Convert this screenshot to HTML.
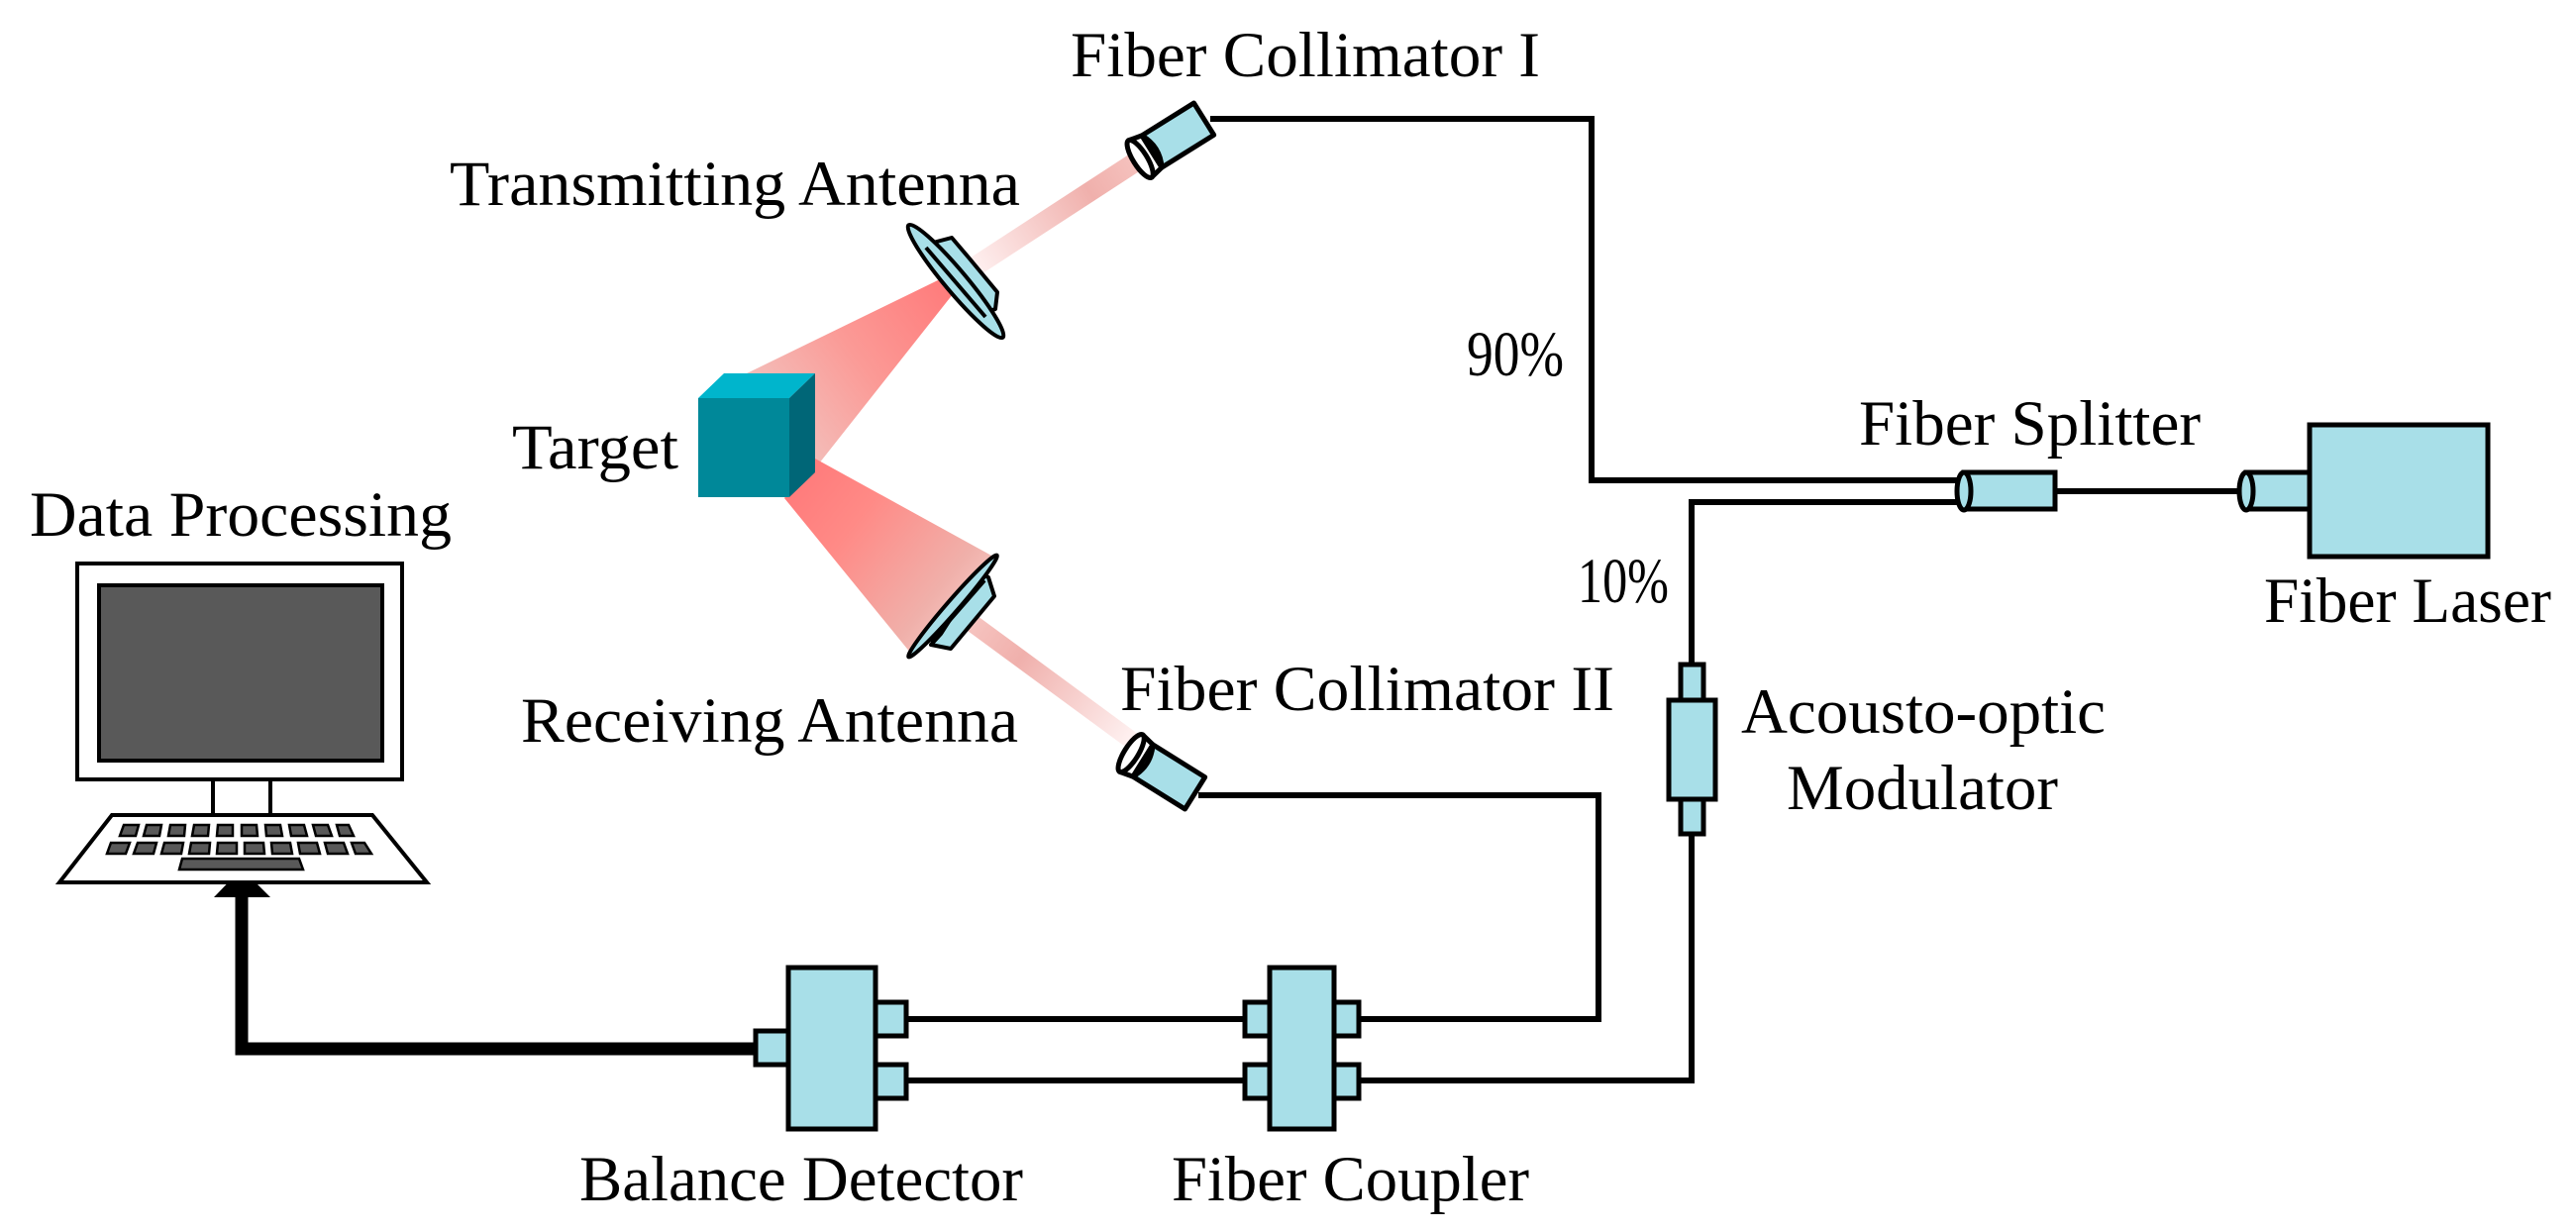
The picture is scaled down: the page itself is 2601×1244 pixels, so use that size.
<!DOCTYPE html>
<html><head><meta charset="utf-8"><style>
html,body{margin:0;padding:0;background:#fff;}
svg{display:block;}
text{font-family:"Liberation Serif",serif;font-size:65px;fill:#000;}
</style></head><body>
<svg width="2601" height="1244" viewBox="0 0 2601 1244" xmlns="http://www.w3.org/2000/svg">
<defs>
<linearGradient id="cone1" gradientUnits="userSpaceOnUse" x1="960" y1="290" x2="770" y2="430">
<stop offset="0" stop-color="#ff7b7b"/><stop offset="0.5" stop-color="#fb9a96"/><stop offset="1" stop-color="#f2c4c0"/></linearGradient>
<linearGradient id="cone2" gradientUnits="userSpaceOnUse" x1="800" y1="490" x2="990" y2="640">
<stop offset="0" stop-color="#ff7b7b"/><stop offset="0.3" stop-color="#ff8a86"/><stop offset="0.75" stop-color="#f0b0aa"/><stop offset="1" stop-color="#f8d0cc"/></linearGradient>
<linearGradient id="beam1" gradientUnits="userSpaceOnUse" x1="1152" y1="160" x2="980" y2="272">
<stop offset="0" stop-color="#f6c4c0"/><stop offset="0.3" stop-color="#f0b0ac"/><stop offset="1" stop-color="#fff2f2"/></linearGradient>
<linearGradient id="beam2" gradientUnits="userSpaceOnUse" x1="980" y1="628" x2="1148" y2="750">
<stop offset="0" stop-color="#f6c4c0"/><stop offset="0.3" stop-color="#f0b0ac"/><stop offset="1" stop-color="#fff4f4"/></linearGradient>
</defs>

<g fill="none" stroke="#000" stroke-width="6">
<polyline points="1222,120 1607,120 1607,485 1983,485"/>
<polyline points="1983,507 1708,507 1708,671"/>
<polyline points="1708,842 1708,1091 1372,1091"/>
<polyline points="1210,803 1614,803 1614,1029 1372,1029"/>
<line x1="915" y1="1029" x2="1257" y2="1029"/>
<line x1="915" y1="1091" x2="1257" y2="1091"/>
<line x1="2075" y1="496" x2="2262" y2="496"/>
</g>
<polyline points="763,1059 244,1059 244,900" fill="none" stroke="#000" stroke-width="13"/>
<polygon points="244,877 216,906 273,906" fill="#000"/>

<polygon points="947,283 966,292 827,468 754,377" fill="url(#cone1)"/>
<polygon points="792,503 823,463 1003,562 920,660" fill="url(#cone2)"/>

<line x1="1152" y1="160" x2="980" y2="272" stroke="url(#beam1)" stroke-width="20" stroke-linecap="round"/>
<line x1="980" y1="628" x2="1146" y2="750" stroke="url(#beam2)" stroke-width="18" stroke-linecap="round"/>

<!-- transmitting antenna -->
<g stroke="#000" stroke-width="4" fill="#a8dfe8" stroke-linejoin="round">
<polygon points="942,245 961,240 978,260 1007,295 1005,312 990,318 950,262"/>
<ellipse cx="965" cy="284" rx="74" ry="11" transform="rotate(50 965 284)"/>
<line x1="935" y1="250" x2="995" y2="320"/>
</g>
<!-- receiving antenna -->
<g stroke="#000" stroke-width="4" fill="#a8dfe8" stroke-linejoin="round">
<polygon points="990,578 998,583 1004,602 960,655 940,651 950,640"/>
<ellipse cx="962" cy="612" rx="68" ry="6" transform="rotate(-49 962 612)"/>
<line x1="994" y1="586" x2="940" y2="648"/>
</g>

<polygon points="705,402 731,377 823,377 797,402" fill="#00b5cc"/>
<polygon points="797,402 823,377 823,477 797,502" fill="#006677"/>
<rect x="705" y="402" width="92" height="100" fill="#008899"/>

<g transform="translate(1163,153) rotate(-32)" stroke="#000" stroke-width="5" stroke-linejoin="round">
<rect x="0" y="-19" width="62" height="38" fill="#a8dfe8"/>
<path d="M0,-19 L-14,-22 L-14,22 L0,19 Z" fill="#fff"/>
<ellipse cx="-14" cy="0" rx="7" ry="22" fill="#fff"/>
<path d="M0,-19 Q10,0 0,19" fill="none"/>
</g>
<g transform="translate(1154,768) rotate(32)" stroke="#000" stroke-width="5" stroke-linejoin="round">
<rect x="0" y="-19" width="62" height="38" fill="#a8dfe8"/>
<path d="M0,-19 L-14,-22 L-14,22 L0,19 Z" fill="#fff"/>
<ellipse cx="-14" cy="0" rx="7" ry="22" fill="#fff"/>
<path d="M0,-19 Q10,0 0,19" fill="none"/>
</g>

<g stroke="#000" stroke-width="5" fill="#a8dfe8">
<rect x="1983" y="477" width="92" height="37"/>
<ellipse cx="1983" cy="496" rx="7" ry="19"/>
<rect x="2268" y="477" width="64" height="37"/>
<ellipse cx="2268" cy="496" rx="7" ry="19"/>
<rect x="2332" y="429" width="180" height="133"/>
<rect x="1697" y="671" width="23" height="36"/>
<rect x="1685" y="707" width="47" height="100"/>
<rect x="1697" y="807" width="23" height="35"/>
<rect x="1257" y="1012" width="25" height="34"/>
<rect x="1257" y="1075" width="25" height="34"/>
<rect x="1347" y="1012" width="25" height="34"/>
<rect x="1347" y="1075" width="25" height="34"/>
<rect x="1282" y="977" width="65" height="163"/>
<rect x="884" y="1012" width="31" height="34"/>
<rect x="884" y="1075" width="31" height="34"/>
<rect x="763" y="1041" width="33" height="34"/>
<rect x="796" y="977" width="88" height="163"/>
</g>

<g stroke="#000" stroke-width="4">
<rect x="78" y="569" width="328" height="218" fill="#fff"/>
<rect x="100" y="591" width="286" height="177" fill="#595959"/>
<rect x="215" y="787" width="58" height="36" fill="#fff"/>
<polygon points="113,823 376,823 431,891 60,891" fill="#fff"/>
</g>
<g fill="#595959" stroke="#000" stroke-width="2.5">
<polygon points="125,833 140,833 137,844 121,844"/>
<polygon points="148,833 163,833 161,844 145,844"/>
<polygon points="172,833 187,833 186,844 170,844"/>
<polygon points="196,833 211,833 210,844 194,844"/>
<polygon points="220,833 235,833 235,844 219,844"/>
<polygon points="244,833 259,833 260,844 244,844"/>
<polygon points="268,833 283,833 285,844 269,844"/>
<polygon points="292,833 307,833 310,844 294,844"/>
<polygon points="316,833 331,833 335,844 319,844"/>
<polygon points="340,833 352,833 357,844 343,844"/>
<polygon points="112,851 131,851 127,862 108,862"/>
<polygon points="139,851 158,851 155,862 135,862"/>
<polygon points="166,851 185,851 183,862 163,862"/>
<polygon points="193,851 212,851 211,862 191,862"/>
<polygon points="220,851 239,851 239,862 219,862"/>
<polygon points="247,851 266,851 267,862 247,862"/>
<polygon points="274,851 293,851 295,862 275,862"/>
<polygon points="301,851 320,851 323,862 303,862"/>
<polygon points="328,851 347,851 351,862 331,862"/>
<polygon points="355,851 368,851 375,862 359,862"/>
<polygon points="184,867 302,867 306,878 181,878"/>
</g>

<text x="1081" y="77" textLength="474" lengthAdjust="spacingAndGlyphs">Fiber Collimator I</text>
<text x="454" y="207" textLength="576" lengthAdjust="spacingAndGlyphs">Transmitting Antenna</text>
<text x="1481" y="379" textLength="98" lengthAdjust="spacingAndGlyphs">90%</text>
<text x="517" y="473" textLength="168" lengthAdjust="spacingAndGlyphs">Target</text>
<text x="30" y="541" textLength="426" lengthAdjust="spacingAndGlyphs">Data Processing</text>
<text x="1877" y="449" textLength="345" lengthAdjust="spacingAndGlyphs">Fiber Splitter</text>
<text x="1593" y="608" textLength="92" lengthAdjust="spacingAndGlyphs">10%</text>
<text x="2286" y="628" textLength="290" lengthAdjust="spacingAndGlyphs">Fiber Laser</text>
<text x="1131" y="717" textLength="499" lengthAdjust="spacingAndGlyphs">Fiber Collimator II</text>
<text x="526" y="749" textLength="502" lengthAdjust="spacingAndGlyphs">Receiving Antenna</text>
<text x="1758" y="740" textLength="368" lengthAdjust="spacingAndGlyphs">Acousto-optic</text>
<text x="1804" y="817" textLength="274" lengthAdjust="spacingAndGlyphs">Modulator</text>
<text x="585" y="1212" textLength="448" lengthAdjust="spacingAndGlyphs">Balance Detector</text>
<text x="1183" y="1212" textLength="361" lengthAdjust="spacingAndGlyphs">Fiber Coupler</text>
</svg>
</body></html>
